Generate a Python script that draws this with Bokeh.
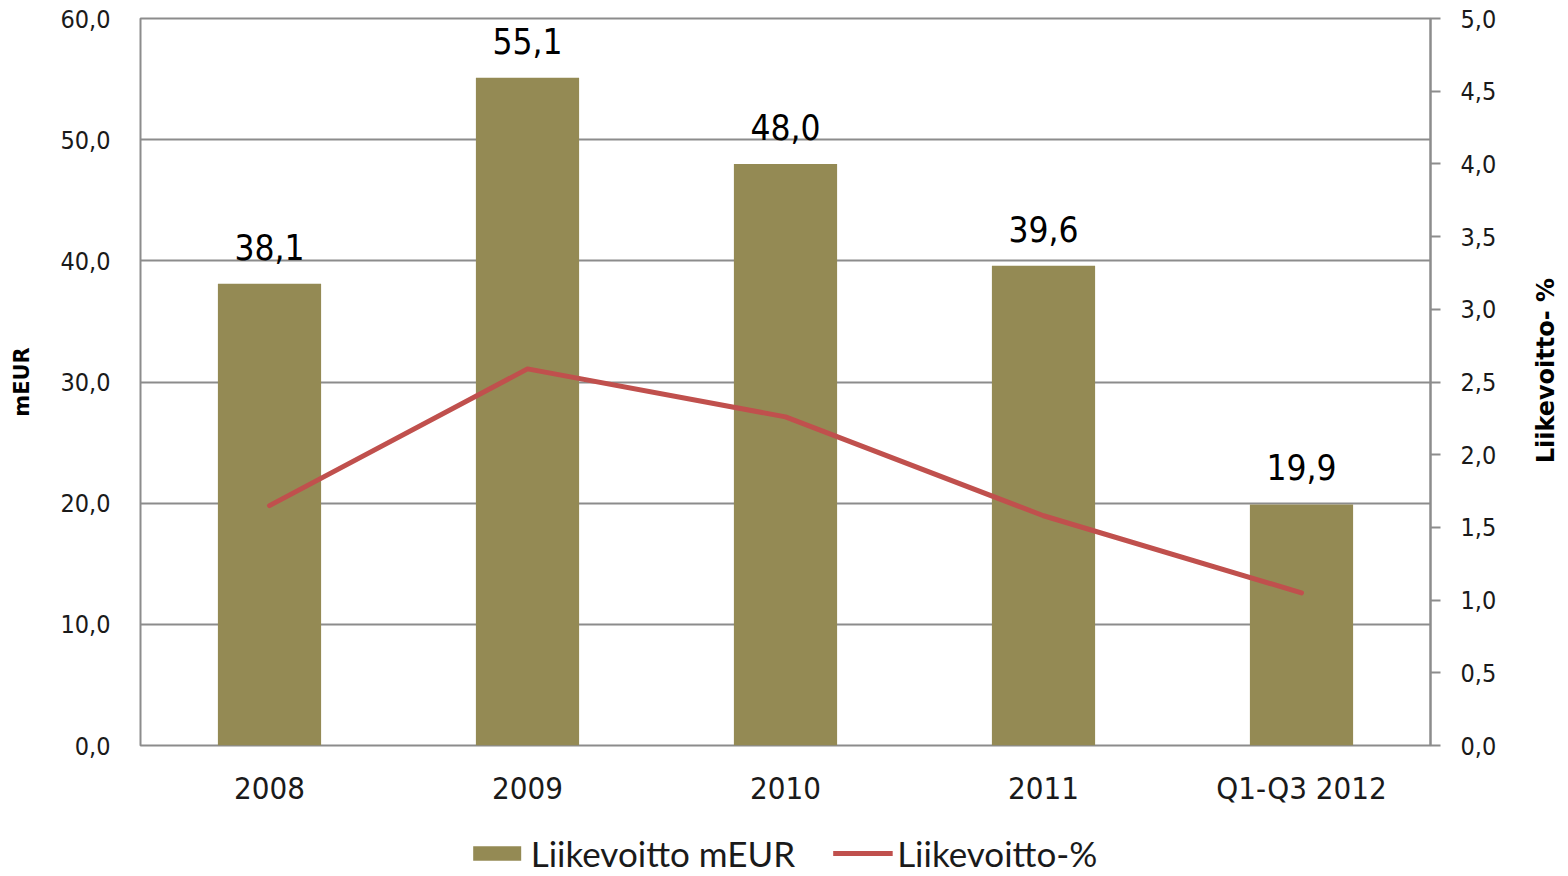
import math
from bokeh.plotting import figure
from bokeh.layouts import column, row
from bokeh.models import (Range1d, LinearAxis, FixedTicker, CustomJSTickFormatter,
                          Legend, LegendItem, ColumnDataSource, Label)
from bokeh.core.properties import value
from bokeh.embed import file_html
from bokeh.resources import INLINE

# ---- data ----
categories = ["2008", "2009", "2010", "2011", "Q1-Q3 2012"]
profit_meur = [38.1, 55.1, 48.0, 39.6, 19.9]
profit_pct = [1.65, 2.59, 2.26, 1.58, 1.05]
left_ticks = [0, 10, 20, 30, 40, 50, 60]
right_ticks = [0, 0.5, 1, 1.5, 2, 2.5, 3, 3.5, 4, 4.5, 5]
series_names = ["Liikevoitto mEUR", "Liikevoitto-%"]
left_title = "mEUR"
right_title = "Liikevoitto- %"

BAR = "#948A54"
LINE = "#C0504D"
GRID = "#8C8C8C"
TXT = "#1A1A1A"
FONT = "DejaVu Sans Condensed"

MAIN_W, MAIN_H = 1520, 830
SIDE_W = 44
LEG_H = 46

p = figure(x_range=categories, y_range=Range1d(0, 60), width=MAIN_W, height=MAIN_H,
           output_backend="svg", toolbar_location=None,
           min_border_left=140, min_border_right=90, min_border_top=18, min_border_bottom=85)
p.outline_line_color = GRID
p.outline_line_width = 2
p.background_fill_color = "white"
p.border_fill_color = "white"

src = ColumnDataSource(dict(
    x=categories, top=profit_meur, pct=profit_pct,
    lbl=[f"{v:.1f}".replace(".", ",") for v in profit_meur]))

p.vbar(x="x", top="top", width=0.4, source=src, fill_color=BAR, line_color=None)

p.extra_y_ranges = {"pct": Range1d(0, 5)}
p.line(x="x", y="pct", source=src, y_range_name="pct", line_color=LINE,
       line_width=5, line_join="round", line_cap="round")

p.text(x="x", y="top", text="lbl", source=src, text_align="center",
       text_baseline="alphabetic", y_offset=-37, text_font=value(FONT),
       text_font_size="35px", text_color="#000000")

fmt = CustomJSTickFormatter(code="return tick.toFixed(1).replace('.', ',');")

# grid
p.xgrid.grid_line_color = None
p.ygrid.grid_line_color = GRID
p.ygrid.grid_line_width = 2
p.ygrid.ticker = FixedTicker(ticks=left_ticks)

# left axis
ya = p.yaxis[0]
ya.ticker = FixedTicker(ticks=left_ticks)
ya.formatter = fmt
ya.axis_line_color = None
ya.major_tick_line_color = None
ya.minor_tick_line_color = None
ya.major_tick_out = 0
ya.major_label_standoff = 30
ya.major_label_text_font = FONT
ya.major_label_text_font_size = "25px"
ya.major_label_text_color = TXT
ya.axis_label = left_title
ya.axis_label_text_font = "DejaVu Sans"
ya.axis_label_text_font_style = "bold"
ya.axis_label_text_font_size = "21px"
ya.axis_label_text_color = "#000000"
ya.axis_label_standoff = 23

# right axis
ra = LinearAxis(y_range_name="pct")
ra.ticker = FixedTicker(ticks=right_ticks)
ra.formatter = fmt
ra.axis_line_color = GRID
ra.axis_line_width = 2
ra.major_tick_line_color = GRID
ra.major_tick_line_width = 2
ra.major_tick_out = 10
ra.major_tick_in = 0
ra.minor_tick_line_color = None
ra.major_label_standoff = 20
ra.major_label_text_font = FONT
ra.major_label_text_font_size = "25px"
ra.major_label_text_color = TXT
p.add_layout(ra, "right")

# x axis
xa = p.xaxis[0]
xa.axis_line_color = None
xa.major_tick_line_color = None
xa.major_tick_out = 0
xa.major_label_standoff = 24
xa.major_label_text_font = FONT
xa.major_label_text_font_size = "31px"
xa.major_label_text_color = TXT

# right-hand axis title strip (reads bottom to top)
pr = figure(width=SIDE_W, height=MAIN_H, output_backend="svg", toolbar_location=None,
            x_axis_type=None, y_axis_type=None, min_border=0,
            x_range=Range1d(0, SIDE_W), y_range=Range1d(0, MAIN_H))
pr.outline_line_color = None
pr.xgrid.grid_line_color = None
pr.ygrid.grid_line_color = None
pr.add_layout(Label(x=25, y=428, text=right_title, angle=math.pi / 2,
                    text_align="center", text_baseline="middle",
                    text_font="DejaVu Sans", text_font_style="bold",
                    text_font_size="24px", text_color="#000000"))

# legend strip (renderers share the series styles; NaN data draws nothing)
pl = figure(width=MAIN_W + SIDE_W, height=LEG_H, output_backend="svg", toolbar_location=None,
            x_axis_type=None, y_axis_type=None, min_border=0,
            x_range=Range1d(0, 1), y_range=Range1d(0, 1))
pl.outline_line_color = None
pl.xgrid.grid_line_color = None
pl.ygrid.grid_line_color = None
nan = float("nan")
lb = pl.vbar(x=[nan], top=[nan], width=0.4, fill_color=BAR, line_color=None)
ll = pl.line(x=[nan, nan], y=[nan, nan], line_color=LINE, line_width=5)
legend = Legend(items=[LegendItem(label=series_names[0], renderers=[lb]),
                       LegendItem(label=series_names[1], renderers=[ll])],
                orientation="horizontal", location="center",
                glyph_width=60, glyph_height=18, label_standoff=4, spacing=38,
                padding=0, margin=0, border_line_color=None,
                label_text_font="Lato", label_text_font_size="35px",
                label_text_color=TXT, background_fill_alpha=0)
pl.add_layout(legend, "center")

layout = column(row(p, pr, spacing=0), pl, spacing=0)
open("out.html", "w").write(file_html(layout, INLINE))
